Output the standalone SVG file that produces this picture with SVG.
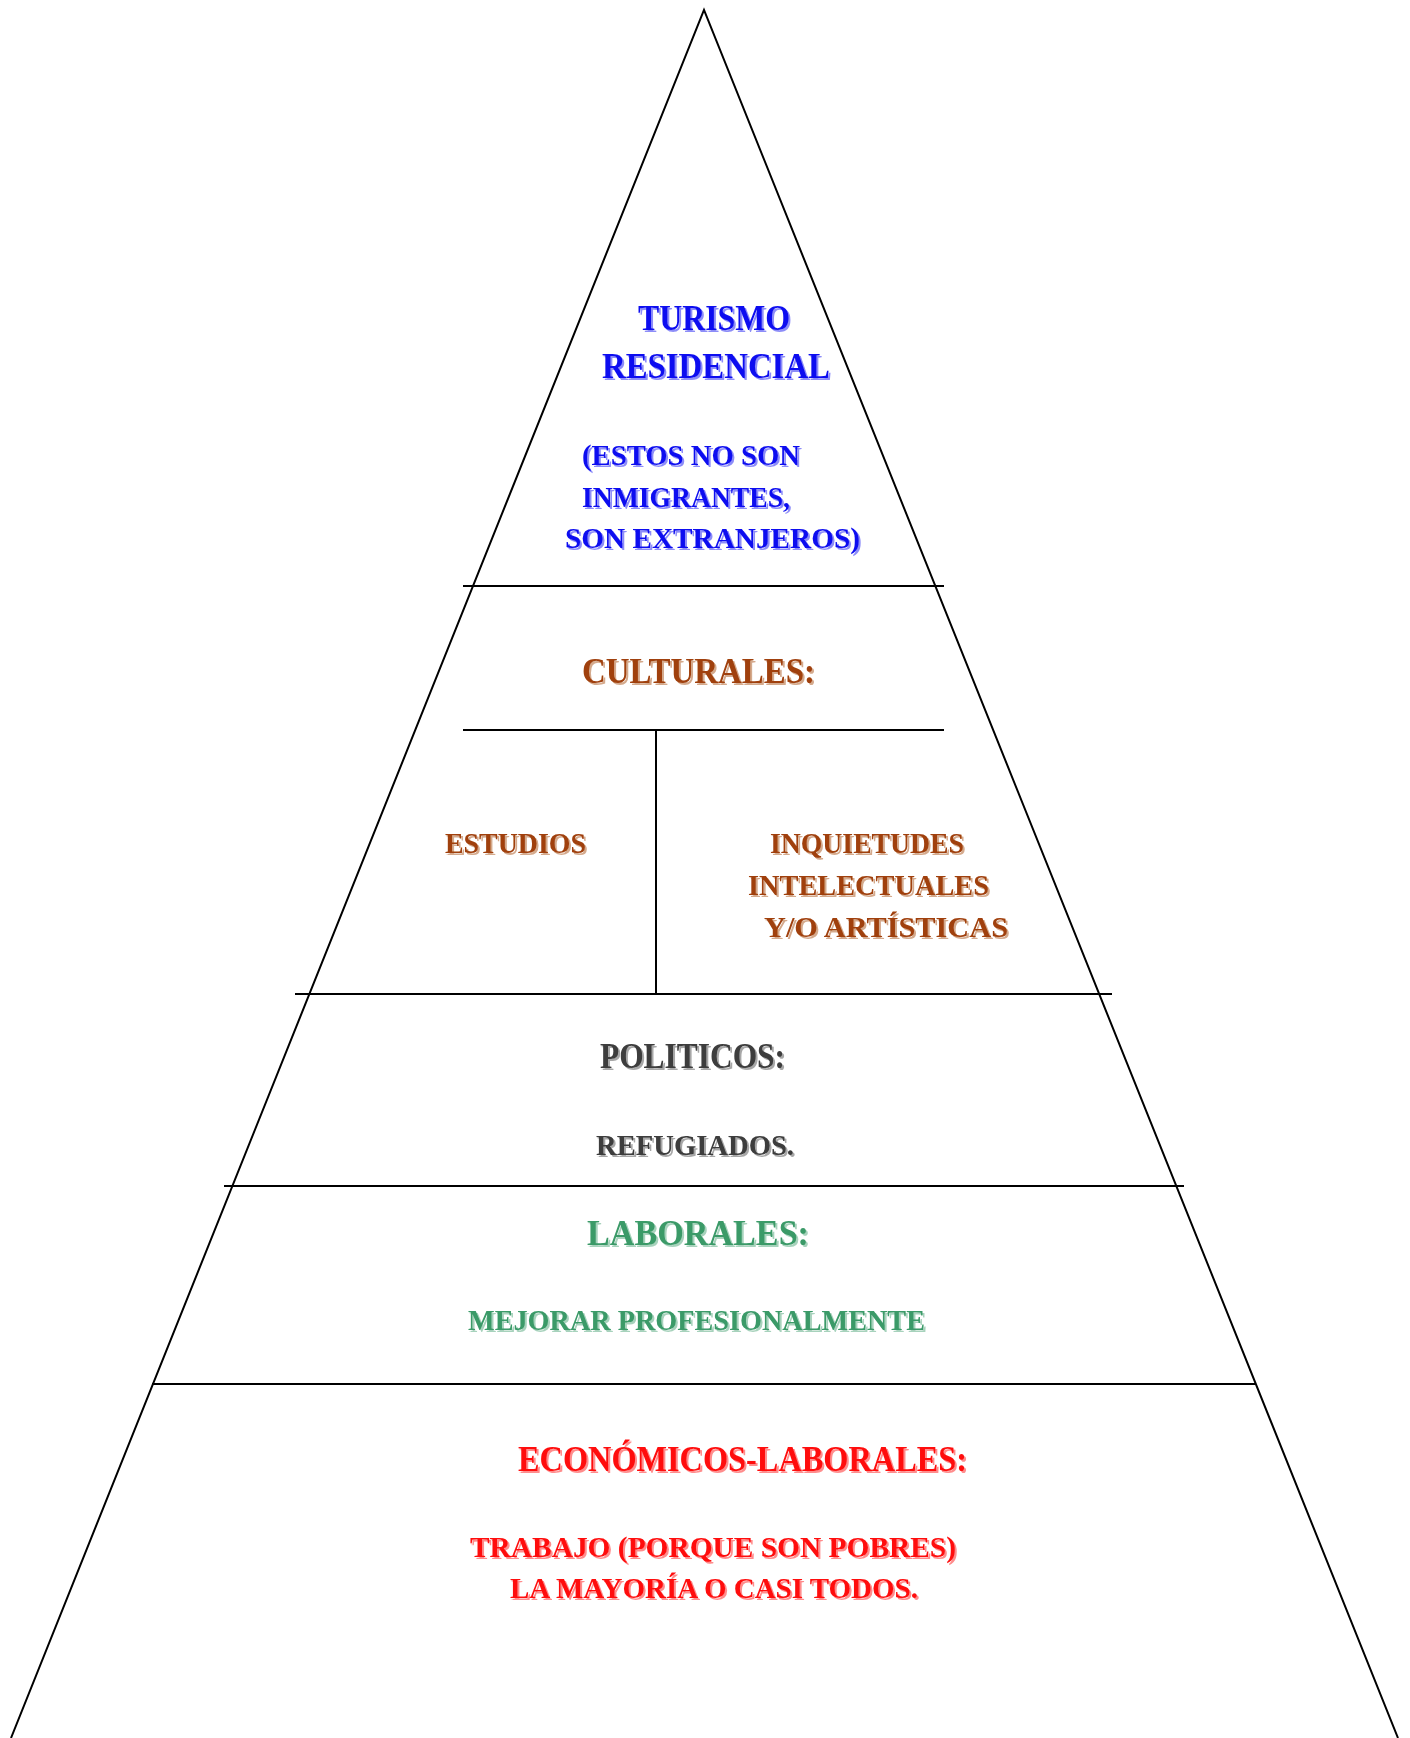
<svg xmlns="http://www.w3.org/2000/svg" width="1410" height="1738" viewBox="0 0 1410 1738">
<defs>
<filter id="sh" x="-5%" y="-20%" width="110%" height="150%">
<feOffset in="SourceGraphic" dx="1.6" dy="1.6" result="o"/>
<feComponentTransfer in="o" result="l"><feFuncA type="linear" slope="0.45"/></feComponentTransfer>
<feMerge><feMergeNode in="l"/><feMergeNode in="SourceGraphic"/></feMerge>
</filter>
</defs>
<style>
.ln{stroke:#000;stroke-width:2;fill:none}
text{font-family:"Liberation Serif","DejaVu Serif",serif;font-weight:bold;filter:url(#sh)}
.t{font-size:36px}
.s{font-size:30px}
.blue{fill:#1010F0}
.brown{fill:#A0400C}
.gray{fill:#3C3C3C}
.green{fill:#3A9A68}
.red{fill:#FF1010}
</style>
<rect width="1410" height="1738" fill="#fff"/>
<g id="connectors">
<polyline class="ln" points="11,1738 704,10 1398,1738"/>
<line class="ln" x1="463" y1="586" x2="944" y2="586"/>
<line class="ln" x1="463" y1="730" x2="944" y2="730"/>
<line class="ln" x1="656" y1="730" x2="656" y2="994"/>
<line class="ln" x1="295" y1="994" x2="1112" y2="994"/>
<line class="ln" x1="224" y1="1186" x2="1184" y2="1186"/>
<line class="ln" x1="152" y1="1384" x2="1256" y2="1384"/>
</g>
<g id="turismo">
<text class="t blue" x="638" y="330" textLength="152" lengthAdjust="spacingAndGlyphs">TURISMO</text>
<text class="t blue" x="602" y="378" textLength="228" lengthAdjust="spacingAndGlyphs">RESIDENCIAL</text>
<text class="s blue" x="582" y="465" textLength="218" lengthAdjust="spacingAndGlyphs">(ESTOS NO SON</text>
<text class="s blue" x="582" y="507" textLength="208" lengthAdjust="spacingAndGlyphs">INMIGRANTES,</text>
<text class="s blue" x="565" y="548" textLength="295" lengthAdjust="spacingAndGlyphs">SON EXTRANJEROS)</text>
</g>
<g id="culturales">
<text class="t brown" x="582" y="683" textLength="233" lengthAdjust="spacingAndGlyphs">CULTURALES:</text>
</g>
<g id="estudios">
<text class="s brown" x="445" y="853" textLength="141" lengthAdjust="spacingAndGlyphs">ESTUDIOS</text>
</g>
<g id="inquietudes">
<text class="s brown" x="770" y="853" textLength="194" lengthAdjust="spacingAndGlyphs">INQUIETUDES</text>
<text class="s brown" x="748" y="895" textLength="241" lengthAdjust="spacingAndGlyphs">INTELECTUALES</text>
<text class="s brown" x="764" y="937" textLength="244" lengthAdjust="spacingAndGlyphs">Y/O ARTÍSTICAS</text>
</g>
<g id="politicos">
<text class="t gray" x="600" y="1068" textLength="185" lengthAdjust="spacingAndGlyphs">POLITICOS:</text>
<text class="s gray" x="596" y="1155" textLength="198" lengthAdjust="spacingAndGlyphs">REFUGIADOS.</text>
</g>
<g id="laborales">
<text class="t green" x="587" y="1245" textLength="222" lengthAdjust="spacingAndGlyphs">LABORALES:</text>
<text class="s green" x="468" y="1330" textLength="457" lengthAdjust="spacingAndGlyphs">MEJORAR PROFESIONALMENTE</text>
</g>
<g id="economicos">
<text class="t red" x="518" y="1471" textLength="449" lengthAdjust="spacingAndGlyphs">ECONÓMICOS-LABORALES:</text>
<text class="s red" x="470" y="1557" textLength="486" lengthAdjust="spacingAndGlyphs">TRABAJO (PORQUE SON POBRES)</text>
<text class="s red" x="510" y="1598" textLength="408" lengthAdjust="spacingAndGlyphs">LA MAYORÍA O CASI TODOS.</text>
</g>
</svg>
